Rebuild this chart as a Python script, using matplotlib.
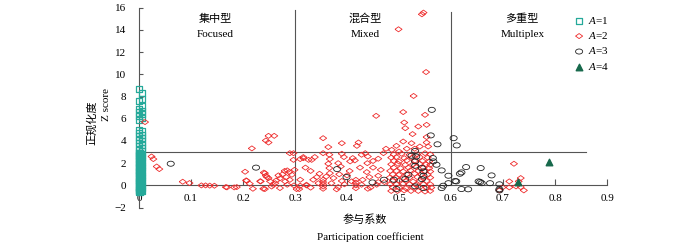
import matplotlib
matplotlib.use('Agg')
import matplotlib.pyplot as plt
from matplotlib.path import Path
from matplotlib.transforms import Affine2D

plt.rcParams['font.family'] = ['Liberation Serif', 'Noto Sans CJK SC']
plt.rcParams['mathtext.fontset'] = 'custom'
plt.rcParams['mathtext.rm'] = 'Liberation Serif'
plt.rcParams['mathtext.it'] = 'Liberation Serif:italic'
plt.rcParams['font.size'] = 8

# A=1 (all at participation coefficient ~0)
a1_x = [0, 0, 0, 0, 0, 0, 0, 0, 0, 0, 0, 0, 0, 0, 0, 0, 0, 0, 0, 0, 0, 0, 0, 0, 0, 0,
        0.005, 0.005, 0.005, 0.005, 0.005, 0.005, 0.005, 0.005, 0.005, 0.005, 0.005, 0.005, 0.005,
        0.005, 0.005, 0.005, 0.005, 0.005, 0.005, 0.005, 0.005, 0.005, 0.005, 0.005, 0.005,
        0.002, 0.002, 0.002, 0.002, 0.002, 0.002, 0.002, 0.002, 0.002, 0.002, 0.002, 0.002,
        0.001, 0.001, 0.001, 0.001, 0.001, 0.001, 0.001, 0.001, 0.001, 0.001, 0.001, 0.001,
        0.0035, 0.0035, 0.0035, 0.0035, 0.0035, 0.0035, 0.0035, 0.0035, 0.0035, 0.0035, 0.0035, 0.0035]
a1_y = [8.65, 7.6, 6.9, 6.56, 6.26, 5.9, 5.0, 4.7, 4.4, 4.1, 3.8, 3.5, 3.2, 2.9, 2.6, 2.3,
        2.0, 1.7, 1.4, 1.1, 0.8, 0.5, 0.2, -0.1, -0.4, -0.6,
        8.3, 7.8, 7.1, 6.7, 6.4, 6.1, 4.85, 4.55, 4.25, 3.95, 3.65, 3.35, 3.05,
        2.75, 2.45, 2.15, 1.85, 1.55, 1.25, 0.95, 0.65, 0.35, 0.05, -0.25, -0.5,
        2.85, 2.5, 2.1, 1.8, 1.5, 1.2, 0.9, 0.6, 0.3, 0.0, -0.3, -0.55,
        2.95, 2.7, 2.35, 1.95, 1.65, 1.3, 1.0, 0.7, 0.4, 0.1, -0.2, -0.45,
        2.8, 2.55, 2.25, 1.9, 1.6, 1.35, 1.05, 0.75, 0.45, 0.15, -0.15, -0.5]

# A=2
a2_x = [0.0115, 0.024, 0.0275, 0.034, 0.039, 0.084, 0.097, 0.12, 0.128, 0.136, 0.145, 0.169, 0.183,
        0.204, 0.217, 0.207, 0.219, 0.213, 0.233, 0.242, 0.242, 0.246, 0.252, 0.258,
        0.249, 0.26, 0.244, 0.249,
        0.29, 0.297, 0.31, 0.316, 0.326, 0.299, 0.285, 0.28, 0.289, 0.24, 0.244, 0.249, 0.234,
        0.206, 0.239, 0.255, 0.262, 0.271, 0.271, 0.281, 0.285, 0.294, 0.298, 0.308, 0.31,
        0.322, 0.188, 0.167, 0.268, 0.276, 0.283, 0.29, 0.264,
        0.456, 0.354, 0.364, 0.39, 0.422, 0.419,
        0.354, 0.366, 0.367, 0.39, 0.394, 0.411, 0.406, 0.415, 0.428, 0.435, 0.439, 0.44,
        0.297, 0.316, 0.332, 0.338, 0.364, 0.366, 0.383, 0.388, 0.347, 0.342, 0.335, 0.354,
        0.354, 0.354, 0.354, 0.354, 0.367, 0.374, 0.409, 0.417, 0.417, 0.417, 0.417, 0.438,
        0.443, 0.46, 0.31, 0.303, 0.322, 0.383, 0.428, 0.457,
        0.46, 0.47, 0.475, 0.45, 0.465, 0.472, 0.445, 0.395, 0.4, 0.33, 0.32, 0.37, 0.39,
        0.405, 0.43, 0.345, 0.36, 0.385, 0.425, 0.45, 0.46, 0.38, 0.44, 0.33,
        0.547, 0.544, 0.499, 0.552, 0.528, 0.508, 0.55, 0.51, 0.512, 0.537, 0.553, 0.526,
        0.553, 0.508, 0.524, 0.553, 0.556, 0.495, 0.54, 0.515, 0.486, 0.5, 0.53,
        0.49, 0.505, 0.52, 0.535, 0.55, 0.56,
        0.485, 0.495, 0.51, 0.525, 0.54, 0.555,
        0.49, 0.5, 0.515, 0.53, 0.545, 0.558,
        0.485, 0.498, 0.512, 0.527, 0.54, 0.552, 0.56,
        0.49, 0.503, 0.518, 0.533, 0.547, 0.558,
        0.483, 0.495, 0.508, 0.522, 0.537, 0.55, 0.56,
        0.488, 0.5, 0.515, 0.53, 0.543, 0.555,
        0.482, 0.495, 0.508, 0.52, 0.535, 0.548, 0.56,
        0.488, 0.5, 0.513, 0.527, 0.54, 0.553,
        0.483, 0.495, 0.508, 0.52, 0.533, 0.547, 0.56,
        0.488, 0.5, 0.513, 0.527, 0.54, 0.553, 0.562,
        0.485, 0.497, 0.51, 0.523, 0.537, 0.55, 0.56,
        0.721, 0.712, 0.734, 0.73, 0.699, 0.712, 0.725, 0.734, 0.74, 0.693]
a2_y = [5.7, 2.6, 2.37, 1.7, 1.47, 0.33, 0.21, 0.0, 0.0, -0.02, -0.03, -0.18, -0.18,
        1.23, 3.33, 0.42, -0.3, 0.15, 0.37, -0.33, 1.1, 0.75, 0.37, 0.05,
        4.46, 4.46, 4.04, 3.86,
        2.9, 2.3, 2.37, 2.55, 2.3, 1.4, 1.35, 1.3, 1.2, 1.15, 0.87, 0.66, 0.36,
        0.45, -0.3, -0.1, 0.2, 0.63, -0.24, 0.36, 0.06, 0.96, 0.0, -0.33, -0.03,
        0.06, -0.15, -0.15, 0.9, 1.0, 0.75, 0.5, 0.45,
        6.26, 4.25, 3.45, 3.8, 3.86, 3.56,
        2.9, 2.76, 2.37, 2.85, 2.55, 2.46, 2.16, 2.25, 2.76, 2.9, 2.0, 2.6,
        2.9, 2.45, 2.3, 2.55, 1.95, 1.56, 2.0, 1.7, 1.05, 0.75, 0.51, 0.51,
        0.3, 0.1, -0.1, -0.3, 1.1, 0.66, 0.36, 0.5, 0.25, 0.0, -0.25, 1.2,
        0.75, 0.87, 0.51, -0.33, 0.0, -0.15, 0.06, 0.06,
        2.4, 2.9, 3.3, 1.6, 1.4, 0.3, -0.2, 0.1, 0.9, 1.3, 1.6, 0.2, 0.4,
        1.3, 0.5, 0.2, 0.8, 1.0, 1.6, 2.2, 0.3, -0.35, -0.3, -0.2,
        15.55, 15.4, 14.05, 10.2, 8.05, 6.6, 6.35, 5.66, 5.15, 5.3, 5.45, 4.62,
        4.35, 3.95, 3.8, 3.86, 3.5, 3.56, 3.5, 3.3, 3.2, 3.05, 3.3,
        2.8, 2.85, 2.75, 2.8, 2.9, 2.8,
        2.5, 2.55, 2.45, 2.5, 2.55, 2.5,
        2.2, 2.15, 2.25, 2.2, 2.2, 2.15,
        1.9, 1.95, 1.85, 1.9, 1.95, 1.9, 1.85,
        1.6, 1.55, 1.6, 1.65, 1.6, 1.55,
        1.3, 1.3, 1.25, 1.35, 1.3, 1.3, 1.25,
        1.0, 0.95, 1.0, 1.05, 1.0, 0.95,
        0.7, 0.7, 0.65, 0.7, 0.75, 0.7, 0.7,
        0.4, 0.45, 0.4, 0.35, 0.4, 0.4,
        0.1, 0.1, 0.15, 0.1, 0.05, 0.1, 0.1,
        -0.2, -0.2, -0.25, -0.2, -0.15, -0.2, -0.2,
        -0.5, -0.5, -0.45, -0.5, -0.5, -0.55, -0.5,
        1.95, 0.36, 0.66, 0.36, -0.18, -0.18, -0.09, -0.15, -0.45, -0.45]

# A=3
a3_x = [0.061, 0.225, 0.381, 0.399, 0.449, 0.471, 0.495,
        0.563, 0.561, 0.605, 0.611, 0.574, 0.531, 0.524, 0.565, 0.566, 0.572, 0.582, 0.595,
        0.62, 0.617, 0.608, 0.595, 0.585, 0.582, 0.62, 0.633, 0.531, 0.544, 0.547, 0.547,
        0.544, 0.547, 0.531, 0.518, 0.512, 0.49, 0.531, 0.533,
        0.629, 0.657, 0.678, 0.653, 0.659, 0.656, 0.675, 0.693, 0.61, 0.693, 0.693]
a3_y = [1.95, 1.6, 1.47, 0.75, 0.27, 0.51, -0.33,
        6.8, 4.5, 4.25, 3.6, 3.7, 3.1, 2.67, 2.46, 2.16, 1.86, 1.35, 0.87,
        1.17, 1.05, 0.4, 0.2, -0.03, -0.24, -0.33, -0.35, 2.16, 1.56, 1.26, 0.87,
        0.57, -0.24, -0.09, 0.96, 0.57, 0.51, 1.77, 2.6,
        1.65, 1.56, 0.9, 0.36, 0.2, 0.3, 0.2, 0.1, 0.36, -0.45, -0.35]

# A=4
a4_x = [0.789, 0.729]
a4_y = [2.08, 0.27]

xticks = [0, 0.1, 0.2, 0.3, 0.4, 0.5, 0.6, 0.7, 0.8, 0.9]
xtick_labels = ['0', '0.1', '0.2', '0.3', '0.4', '0.5', '0.6', '0.7', '0.8', '0.9']
yticks = [-2, 0, 2, 4, 6, 8, 10, 12, 14, 16]

regions = [(0.146, '集中型', 'Focused'), (0.435, '混合型', 'Mixed'), (0.737, '多重型', 'Multiplex')]

ellipse = Path.unit_circle().transformed(Affine2D().scale(1.4, 1.0))
diamond = [(-1.4, 0), (0, 1), (1.4, 0), (0, -1), (-1.4, 0)]

fig = plt.figure(figsize=(7, 2.46), dpi=100)
ax = fig.add_axes([0.1986, 0.156, 0.6686, 0.813])

line_c = '#555555'
ax.plot([0, 0.86], [3, 3], color=line_c, lw=0.8, zorder=1)
ax.plot([0.3, 0.3], [0, 15.8], color=line_c, lw=0.8, zorder=1)
ax.plot([0.6, 0.6], [0, 15.6], color=line_c, lw=0.8, zorder=1)

ax.scatter(a1_x, a1_y, marker='s', s=20, facecolors='none', edgecolors='#25a99a',
           linewidths=0.9, label='$A$=1', zorder=3, clip_on=False)
ax.scatter(a2_x, a2_y, marker=diamond, s=26, facecolors='none', edgecolors='#ee2b2b',
           linewidths=0.6, label='$A$=2', zorder=3, clip_on=False)
ax.scatter(a3_x, a3_y, marker=ellipse, s=26, facecolors='none', edgecolors='#222222',
           linewidths=0.6, label='$A$=3', zorder=4, clip_on=False)
ax.scatter(a4_x, a4_y, marker='^', s=22, color='#17694c', label='$A$=4', zorder=4, clip_on=False)

for x, zh, en in regions:
    ax.text(x, 15.0, zh, ha='center', va='center', fontsize=8)
    ax.text(x, 13.6, en, ha='center', va='center', fontsize=8)

ax.set_xlim(0, 0.9)
ax.set_ylim(-2, 16)
ax.spines['top'].set_visible(False)
ax.spines['right'].set_visible(False)
ax.spines['bottom'].set_position(('data', 0))
for sp in ['left', 'bottom']:
    ax.spines[sp].set_color(line_c)
    ax.spines[sp].set_linewidth(0.8)
ax.set_xticks(xticks)
ax.set_xticklabels(xtick_labels)
ax.set_yticks(yticks)
ax.set_yticklabels(['\u22122' if t < 0 else str(t) for t in yticks])
ax.tick_params(axis='x', direction='in', length=4, width=0.8, color=line_c, pad=6, labelsize=8)
ax.tick_params(axis='y', direction='in', length=3, width=0.8, color=line_c, pad=9, labelsize=8)

fig.text(92 / 700, 1 - 123 / 246, '正规化度', rotation=90, ha='center', va='center', fontsize=8)
fig.text(106 / 700, 1 - 105 / 246, 'Z score', rotation=90, ha='center', va='center', fontsize=8)
fig.text(365 / 700, 1 - 220 / 246, '参与系数', ha='center', va='center', fontsize=8)
fig.text(370 / 700, 1 - 237 / 246, 'Participation coefficient', ha='center', va='center', fontsize=8)

ax.legend(loc='upper left', bbox_to_anchor=(568 / 700, 1 - 9 / 246), bbox_transform=fig.transFigure,
          frameon=False, handlelength=1.0, handletextpad=0.3, labelspacing=0.4,
          borderpad=0, fontsize=8, scatterpoints=1)

fig.savefig('out.png', dpi=100)
